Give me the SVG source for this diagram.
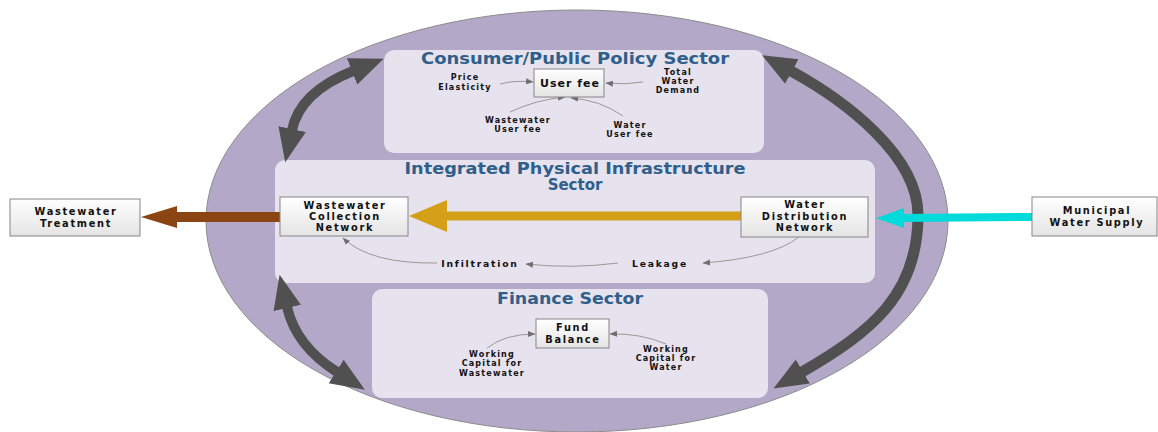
<svg xmlns="http://www.w3.org/2000/svg" width="1158" height="432" viewBox="0 0 1158 432">
<style>
.panel{fill:#E6E2EE;stroke:none}
.box{fill:url(#boxg);stroke:#858585;stroke-width:1}
.title{font-family:"DejaVu Sans",Verdana,sans-serif;font-weight:bold;font-size:15px;fill:#2F5F8A;text-anchor:middle}
.bt{font-family:"DejaVu Sans",Verdana,sans-serif;font-weight:bold;font-size:9.8px;fill:#111;text-anchor:middle;letter-spacing:1.7px}
.sm{font-family:"DejaVu Sans",Verdana,sans-serif;font-weight:bold;font-size:8px;fill:#111;text-anchor:middle;letter-spacing:1.2px}
.md{font-family:"DejaVu Sans",Verdana,sans-serif;font-weight:bold;font-size:9.2px;fill:#111;text-anchor:middle;letter-spacing:1.8px}
.thin{fill:none;stroke:#999;stroke-width:1;marker-end:url(#hSmall)}
.gray{fill:none;stroke:#505050;stroke-width:10;marker-start:url(#hGray);marker-end:url(#hGray)}
</style>
<defs>
<linearGradient id="boxg" x1="0" y1="0" x2="0" y2="1">
<stop offset="0" stop-color="#FFFFFF"/>
<stop offset="1" stop-color="#E4E4E4"/>
</linearGradient>
<marker id="hSmall" markerUnits="userSpaceOnUse" markerWidth="8" markerHeight="7" viewBox="0 0 8 7" refX="7" refY="3.5" orient="auto"><path d="M0,0.5 L7.5,3.5 L0,6.5 z" fill="#707070"/></marker>
<marker id="hGray" markerUnits="userSpaceOnUse" markerWidth="36" markerHeight="30" viewBox="0 0 36 30" refX="1" refY="15" orient="auto-start-reverse"><path d="M0,1 L34,15 L0,29 z" fill="#505050"/></marker>
<marker id="hGold" markerUnits="userSpaceOnUse" markerWidth="40" markerHeight="34" viewBox="0 0 40 34" refX="1" refY="17" orient="auto"><path d="M0,1 L38,17 L0,33 z" fill="#D4A017"/></marker>
<marker id="hBrown" markerUnits="userSpaceOnUse" markerWidth="37" markerHeight="24" viewBox="0 0 37 24" refX="1" refY="12" orient="auto"><path d="M0,1 L36,12 L0,23 z" fill="#8B4513"/></marker>
<marker id="hCyan" markerUnits="userSpaceOnUse" markerWidth="29" markerHeight="22" viewBox="0 0 29 22" refX="1" refY="11" orient="auto"><path d="M0,1 L28,11 L0,21 z" fill="#00DADA"/></marker>
</defs>

<g id="system">
<ellipse cx="577" cy="221" rx="371" ry="211" fill="#B4A8C8" stroke="#8C8C8C" stroke-width="1"/>
</g>

<g id="consumer-sector">
<rect class="panel" x="384" y="50" width="380" height="103" rx="10"/>
<text class="title" x="575" y="64" textLength="308" lengthAdjust="spacingAndGlyphs">Consumer/Public Policy Sector</text>
</g>
<g id="infrastructure-sector">
<rect class="panel" x="275" y="160" width="600" height="123" rx="10"/>
<text class="title" x="575" y="174" textLength="341" lengthAdjust="spacingAndGlyphs">Integrated Physical Infrastructure</text>
<text class="title" x="575" y="190">Sector</text>
</g>
<g id="finance-sector">
<rect class="panel" x="372" y="289" width="396" height="109" rx="10"/>
<text class="title" x="570" y="304" textLength="146" lengthAdjust="spacingAndGlyphs">Finance Sector</text>
</g>

<g id="connectors">
<path class="gray" d="M353,71 Q300,92 292,130"/>
<path class="gray" d="M287,307 Q296,346 337,372"/>
<path class="gray" style="stroke-width:11" d="M791,71 C844,100 918,155 918,215 C918,295 871,332 802,372"/>
<path class="thin" d="M500,84 Q515,80 533,82"/>
<path class="thin" d="M643,82 Q625,85 606,83"/>
<path class="thin" d="M510,112 Q535,100 565,97"/>
<path class="thin" d="M623,116 Q600,100 571,98"/>
<path class="thin" d="M799,237 Q772,258 703,263"/>
<path class="thin" d="M618,263 Q572,269 526,264"/>
<path class="thin" d="M437,263 Q370,264 343,238"/>
<path class="thin" d="M487,348 Q505,334 535,334"/>
<path class="thin" d="M666,344 Q640,333 610,334"/>
<path fill="none" stroke="#D4A017" stroke-width="9" marker-end="url(#hGold)" d="M741,216 L446,216"/>
<path fill="none" stroke="#8B4513" stroke-width="10" marker-end="url(#hBrown)" d="M280,217 L176,217"/>
<path fill="none" stroke="#00DADA" stroke-width="8" marker-end="url(#hCyan)" d="M1032,217 L903,218"/>
</g>

<g id="user-fee"><rect class="box" x="534" y="69" width="70" height="28"/><text class="bt" x="570" y="87" style="font-size:11px;letter-spacing:1px">User fee</text></g>
<g id="price-elasticity"><text class="sm" x="465" y="80">Price</text><text class="sm" x="465" y="90">Elasticity</text></g>
<g id="total-water-demand"><text class="sm" x="678" y="75">Total</text><text class="sm" x="678" y="84">Water</text><text class="sm" x="678" y="93">Demand</text></g>
<g id="wastewater-user-fee"><text class="sm" x="518" y="123">Wastewater</text><text class="sm" x="518" y="132">User fee</text></g>
<g id="water-user-fee"><text class="sm" x="630" y="128">Water</text><text class="sm" x="630" y="137">User fee</text></g>

<g id="wastewater-collection"><rect class="box" x="280" y="197" width="128" height="39"/><text class="bt" x="345" y="209">Wastewater</text><text class="bt" x="345" y="220">Collection</text><text class="bt" x="345" y="231">Network</text></g>
<g id="water-distribution"><rect class="box" x="741" y="197" width="127" height="40"/><text class="bt" x="805" y="208">Water</text><text class="bt" x="805" y="220">Distribution</text><text class="bt" x="805" y="231">Network</text></g>
<g id="infiltration"><text class="md" x="480" y="267">Infiltration</text></g>
<g id="leakage"><text class="md" x="660" y="267">Leakage</text></g>

<g id="fund-balance"><rect class="box" x="536" y="319" width="73" height="29"/><text class="bt" x="573" y="331">Fund</text><text class="bt" x="573" y="343">Balance</text></g>
<g id="wc-wastewater"><text class="sm" x="492" y="357">Working</text><text class="sm" x="492" y="366">Capital for</text><text class="sm" x="492" y="376">Wastewater</text></g>
<g id="wc-water"><text class="sm" x="666" y="352">Working</text><text class="sm" x="666" y="361">Capital for</text><text class="sm" x="666" y="370">Water</text></g>

<g id="wastewater-treatment"><rect class="box" x="10" y="199" width="130" height="37"/><text class="bt" x="76" y="215">Wastewater</text><text class="bt" x="76" y="227">Treatment</text></g>
<g id="municipal-water-supply"><rect class="box" x="1032" y="197" width="125" height="39"/><text class="bt" x="1097" y="214">Municipal</text><text class="bt" x="1097" y="226">Water Supply</text></g>
</svg>
